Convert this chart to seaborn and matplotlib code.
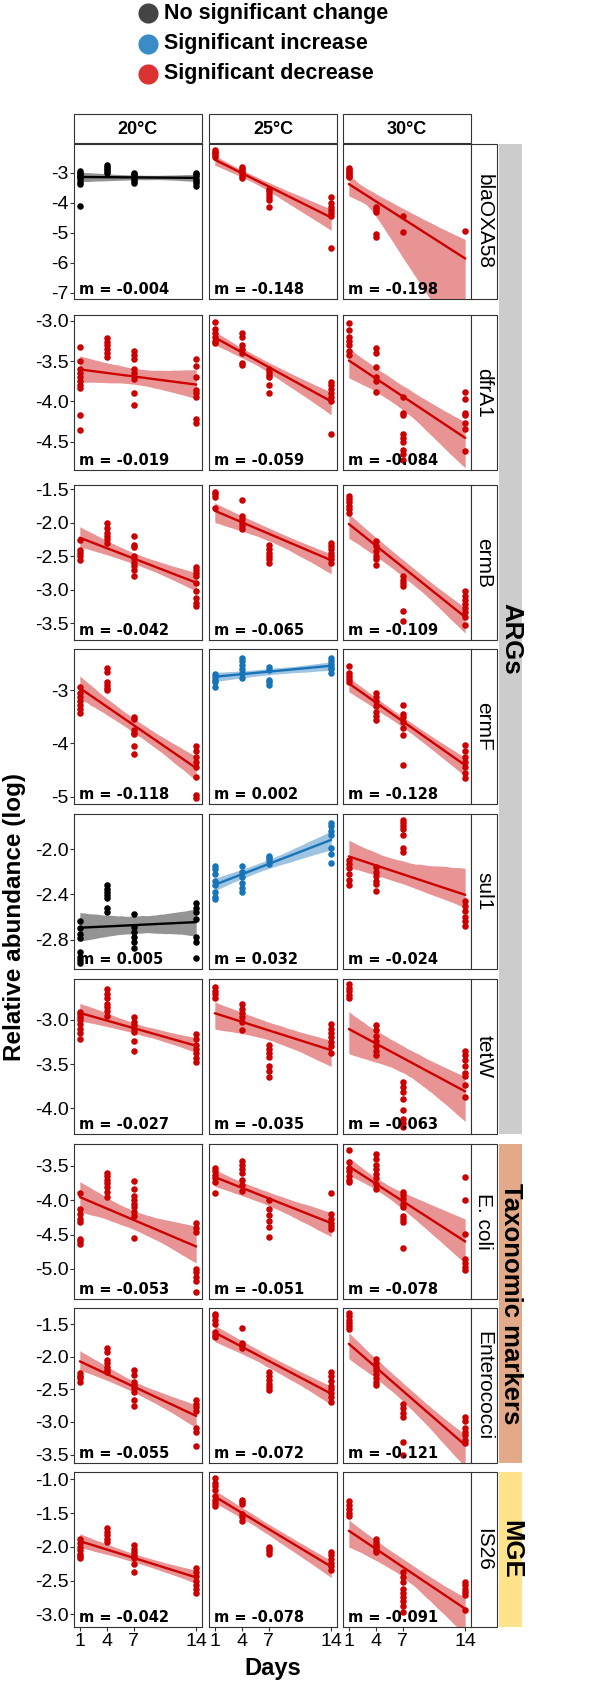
import numpy as np
import pandas as pd
import matplotlib
matplotlib.use("Agg")
import matplotlib.pyplot as plt
from matplotlib.patches import Rectangle
from matplotlib.collections import PolyCollection
import seaborn as sns

# sampling days and facets
days = [1, 4, 7, 14]
temps = ["20°C", "25°C", "30°C"]
genes = ["blaOXA58", "dfrA1", "ermB", "ermF", "sul1", "tetW", "E. coli", "Enterococci", "IS26"]
groups = [("ARGs", 0, 5, "#CCCCCC"), ("Taxonomic markers", 6, 7, "#E2AA88"), ("MGE", 8, 8, "#FFE38A")]

# trend per panel: ns = no significant change, inc = increase, dec = decrease
trend = [["ns", "dec", "dec"], ["dec", "dec", "dec"], ["dec", "dec", "dec"],
         ["dec", "inc", "dec"], ["ns", "inc", "dec"], ["dec", "dec", "dec"],
         ["dec", "dec", "dec"], ["dec", "dec", "dec"], ["dec", "dec", "dec"]]
slope_labels = [["-0.004", "-0.148", "-0.198"], ["-0.019", "-0.059", "-0.084"],
                ["-0.042", "-0.065", "-0.109"], ["-0.118", "0.002", "-0.128"],
                ["0.005", "0.032", "-0.024"], ["-0.027", "-0.035", "-0.063"],
                ["-0.053", "-0.051", "-0.078"], ["-0.055", "-0.072", "-0.121"],
                ["-0.042", "-0.078", "-0.091"]]

# log relative abundance, one list per day (1, 4, 7, 14)
blaOXA58_20 = [[-2.95, -3.0, -3.05, -3.1, -3.15, -3.2, -3.3, -3.38, -4.1],
               [-2.75, -2.8, -2.88, -2.95, -3.0],
               [-3.0, -3.05, -3.1, -3.15, -3.2, -3.28, -3.35],
               [-3.0, -3.05, -3.12, -3.2, -3.28, -3.35, -3.45]]
blaOXA58_25 = [[-2.25, -2.3, -2.35, -2.42, -2.48],
               [-2.8, -2.88, -2.95, -3.02, -3.1, -3.18],
               [-3.55, -3.62, -3.7, -3.8, -3.9, -4.15],
               [-3.8, -4.0, -4.15, -4.25, -4.35, -4.45, -5.5]]
blaOXA58_30 = [[-2.85, -2.9, -2.95, -3.0, -3.05, -3.1, -3.15],
               [-4.15, -4.22, -4.3, -5.05, -5.12],
               [-4.45, -4.98],
               [-4.95]]
dfrA1_20 = [[-3.33, -3.5, -3.6, -3.65, -3.7, -3.75, -3.8, -3.83, -4.17, -4.36],
            [-3.22, -3.27, -3.3, -3.35, -3.4, -3.45],
            [-3.37, -3.42, -3.47, -3.6, -3.65, -3.72, -3.9, -4.04],
            [-3.48, -3.56, -3.7, -3.86, -3.9, -3.95, -4.22, -4.27]]
dfrA1_25 = [[-3.02, -3.1, -3.15, -3.2, -3.25, -3.28],
            [-3.15, -3.2, -3.3, -3.35, -3.4, -3.52, -3.55],
            [-3.6, -3.63, -3.67, -3.7, -3.8, -3.9],
            [-3.76, -3.8, -3.85, -3.9, -3.95, -4.0, -4.41]]
dfrA1_30 = [[-3.03, -3.12, -3.2, -3.25, -3.3, -3.38, -3.42],
            [-3.34, -3.4, -3.58, -3.7, -3.75, -3.88],
            [-3.95, -4.15, -4.17, -4.4, -4.45, -4.5, -4.6, -4.65, -4.72],
            [-3.88, -3.97, -4.15, -4.17, -4.27, -4.34, -4.61]]
ermB_20 = [[-2.26, -2.41, -2.45, -2.5, -2.56],
           [-2.0, -2.08, -2.15, -2.2, -2.25, -2.31],
           [-2.2, -2.33, -2.37, -2.5, -2.55, -2.6, -2.65, -2.7, -2.8],
           [-2.66, -2.7, -2.75, -2.8, -2.9, -3.02, -3.12, -3.2, -3.25]]
ermB_25 = [[-1.55, -1.58, -1.62, -1.78],
           [-1.67, -1.9, -1.95, -2.0, -2.05, -2.1],
           [-2.33, -2.4, -2.45, -2.5, -2.55, -2.6],
           [-2.3, -2.35, -2.4, -2.45, -2.5, -2.55, -2.6]]
ermB_30 = [[-1.6, -1.65, -1.7, -1.75, -1.8, -1.85],
           [-2.27, -2.35, -2.42, -2.5, -2.55, -2.63],
           [-2.8, -2.85, -2.9, -2.95, -3.32, -3.47],
           [-3.02, -3.1, -3.15, -3.22, -3.28, -3.34, -3.4, -3.53]]
ermF_20 = [[-2.93, -3.05, -3.12, -3.2, -3.28, -3.35, -3.42],
           [-2.57, -2.65, -2.85, -2.9, -2.95, -2.99],
           [-3.5, -3.53, -3.75, -3.8, -3.83, -4.05, -4.2],
           [-4.05, -4.15, -4.25, -4.35, -4.45, -4.63, -4.97, -5.03]]
ermF_25 = [[-2.7, -2.75, -2.8, -2.85, -2.93],
           [-2.39, -2.45, -2.52, -2.6, -2.68, -2.77],
           [-2.56, -2.62, -2.8, -2.85, -2.9],
           [-2.39, -2.45, -2.5, -2.55, -2.6, -2.67]]
ermF_30 = [[-2.54, -2.67, -2.72, -2.78, -2.84],
           [-3.05, -3.12, -3.2, -3.3, -3.4, -3.49, -3.55],
           [-3.27, -3.45, -3.5, -3.6, -3.7, -3.84, -4.4],
           [-4.03, -4.15, -4.25, -4.35, -4.45, -4.55, -4.65]]
sul1_20 = [[-2.64, -2.7, -2.75, -2.79, -2.91, -2.95, -2.98, -3.01],
           [-2.32, -2.35, -2.38, -2.41, -2.43, -2.52, -2.56],
           [-2.57, -2.69, -2.73, -2.78, -2.82, -2.87],
           [-2.48, -2.52, -2.56, -2.62, -2.78, -2.82, -2.96]]
sul1_25 = [[-2.15, -2.18, -2.22, -2.28, -2.32, -2.38, -2.42, -2.44],
           [-2.15, -2.2, -2.25, -2.3, -2.34, -2.38],
           [-2.06, -2.08, -2.1, -2.13],
           [-1.77, -1.8, -1.84, -1.88, -1.99, -2.04, -2.12]]
sul1_30 = [[-2.1, -2.13, -2.17, -2.22, -2.27, -2.32],
           [-2.16, -2.2, -2.24, -2.28, -2.31, -2.37],
           [-1.74, -1.77, -1.8, -1.82, -1.88, -1.99, -2.03],
           [-2.46, -2.5, -2.55, -2.6, -2.64, -2.68]]
tetW_20 = [[-2.91, -2.94, -2.97, -3.0, -3.05, -3.1, -3.15, -3.22],
           [-2.65, -2.71, -2.76, -2.82, -2.86, -2.9, -2.96],
           [-2.97, -3.02, -3.06, -3.1, -3.14, -3.24, -3.35],
           [-3.16, -3.22, -3.28, -3.33, -3.38, -3.43, -3.48]]
tetW_25 = [[-2.63, -2.67, -2.71, -2.75],
           [-2.82, -2.88, -2.92, -2.97, -3.02, -3.12],
           [-3.29, -3.33, -3.38, -3.42, -3.52, -3.58, -3.65],
           [-3.05, -3.1, -3.15, -3.2, -3.25, -3.3, -3.37]]
tetW_30 = [[-2.6, -2.64, -2.68, -2.72, -2.76],
           [-3.06, -3.12, -3.18, -3.24, -3.3, -3.35, -3.4],
           [-3.7, -3.76, -3.82, -3.89, -4.02, -4.12, -4.17, -4.21],
           [-3.35, -3.4, -3.45, -3.52, -3.6, -3.63, -3.74, -3.87]]
ecoli_20 = [[-3.89, -4.13, -4.2, -4.27, -4.32, -4.57, -4.6, -4.64],
            [-3.6, -3.65, -3.7, -3.75, -3.8, -3.88, -3.96],
            [-3.72, -3.84, -3.94, -4.0, -4.05, -4.1, -4.17, -4.23, -4.55],
            [-4.33, -4.4, -4.47, -5.0, -5.05, -5.12, -5.18, -5.34]]
ecoli_25 = [[-3.53, -3.58, -3.63, -3.68, -3.74, -3.89],
            [-3.43, -3.48, -3.55, -3.6, -3.7, -3.78, -3.86],
            [-4.0, -4.13, -4.22, -4.3, -4.39, -4.54],
            [-3.89, -4.2, -4.28, -4.33, -4.38, -4.42]]
ecoli_30 = [[-3.27, -3.44, -3.53, -3.58, -3.64, -3.7, -3.74],
            [-3.32, -3.4, -3.48, -3.55, -3.62, -3.68, -3.76, -3.84],
            [-3.88, -3.93, -3.98, -4.05, -4.1, -4.23, -4.28, -4.32, -4.69],
            [-3.66, -3.99, -4.49, -4.86, -4.92, -4.97, -5.02]]
entero_20 = [[-2.25, -2.29, -2.33, -2.38],
             [-1.86, -1.92, -2.05, -2.1, -2.15, -2.2, -2.23],
             [-2.2, -2.28, -2.38, -2.43, -2.48, -2.54, -2.67, -2.75],
             [-2.67, -2.72, -2.77, -2.83, -3.1, -3.16, -3.37]]
entero_25 = [[-1.34, -1.38, -1.43, -1.5, -1.62, -1.66, -1.7],
             [-1.55, -1.78, -1.82, -1.86],
             [-2.23, -2.3, -2.36, -2.42, -2.47, -2.51],
             [-2.23, -2.3, -2.37, -2.44, -2.5, -2.56, -2.62, -2.7]]
entero_30 = [[-1.33, -1.38, -1.43, -1.48, -1.52, -1.58],
             [-2.04, -2.1, -2.15, -2.2, -2.26, -2.32, -2.38, -2.43],
             [-2.72, -2.78, -2.86, -2.93, -3.3, -3.5],
             [-2.93, -2.98, -3.1, -3.15, -3.2, -3.28, -3.33]]
is26_20 = [[-1.89, -1.95, -2.0, -2.05, -2.1, -2.14, -2.17],
           [-1.72, -1.78, -1.83, -1.88, -1.93],
           [-1.98, -2.03, -2.08, -2.12, -2.17, -2.25, -2.37],
           [-2.31, -2.38, -2.44, -2.5, -2.56, -2.62, -2.68]]
is26_25 = [[-0.98, -1.05, -1.1, -1.15, -1.25, -1.3, -1.35, -1.39],
           [-1.3, -1.34, -1.37, -1.52, -1.56, -1.61],
           [-2.0, -2.03, -2.06, -2.1],
           [-2.07, -2.12, -2.18, -2.24, -2.29, -2.35]]
is26_30 = [[-1.32, -1.38, -1.44, -1.5, -1.55],
           [-1.89, -1.93, -1.97, -2.01, -2.05, -2.08],
           [-2.37, -2.45, -2.52, -2.62, -2.68, -2.74, -2.8, -2.88, -2.96],
           [-2.52, -2.57, -2.62, -2.67, -2.71, -2.94]]

panels = [[blaOXA58_20, blaOXA58_25, blaOXA58_30], [dfrA1_20, dfrA1_25, dfrA1_30],
          [ermB_20, ermB_25, ermB_30], [ermF_20, ermF_25, ermF_30],
          [sul1_20, sul1_25, sul1_30], [tetW_20, tetW_25, tetW_30],
          [ecoli_20, ecoli_25, ecoli_30], [entero_20, entero_25, entero_30],
          [is26_20, is26_25, is26_30]]

# y axis per gene row
ylims = [(-7.2, -2.04), (-4.85, -2.93), (-3.75, -1.44), (-5.14, -2.22), (-3.06, -1.69),
         (-4.29, -2.54), (-5.44, -3.18), (-3.63, -1.25), (-3.19, -0.89)]
yticks = [[-3, -4, -5, -6, -7], [-3.0, -3.5, -4.0, -4.5], [-1.5, -2.0, -2.5, -3.0, -3.5],
          [-3, -4, -5], [-2.0, -2.4, -2.8], [-3.0, -3.5, -4.0], [-3.5, -4.0, -4.5, -5.0],
          [-1.5, -2.0, -2.5, -3.0, -3.5], [-1.0, -1.5, -2.0, -2.5, -3.0]]
ytick_fmt = ["%d", "%.1f", "%.1f", "%d", "%.1f", "%.1f", "%.1f", "%.1f", "%.1f"]

# long table
rows = []
for gi, g in enumerate(genes):
    for ti, t in enumerate(temps):
        for d, vals in zip(days, panels[gi][ti]):
            for v in vals:
                rows.append((g, t, d, v))
df = pd.DataFrame(rows, columns=["gene", "temp", "day", "value"])

pt_color = {"ns": "#000000", "inc": "#1874B8", "dec": "#CC0000"}
leg_color = {"ns": "#444444", "inc": "#3A8CC6", "dec": "#DC3232"}

sns.set_style("white")
plt.rcParams["font.family"] = ["Liberation Sans", "DejaVu Sans"]
plt.rcParams["text.color"] = "black"
plt.rcParams["xtick.color"] = "black"
plt.rcParams["ytick.color"] = "black"

W, H = 613, 1684
fig = plt.figure(figsize=(W / 100, H / 100), dpi=100)

def fr(x0, y0, w, h):
    return [x0 / W, 1 - (y0 + h) / H, w / W, h / H]

col_x = [74, 209, 343]
pw, ph = 128, 155
tops = [144, 315, 485, 649, 814, 979, 1144, 1308, 1472]
edge = "#333333"

for gi, g in enumerate(genes):
    for ti, t in enumerate(temps):
        ax = fig.add_axes(fr(col_x[ti], tops[gi], pw, ph))
        sub = df[(df.gene == g) & (df.temp == t)]
        c = pt_color[trend[gi][ti]]
        sns.regplot(data=sub, x="day", y="value", ax=ax, color=c, ci=95, seed=3,
                    scatter_kws=dict(s=22, linewidths=0, alpha=1, zorder=3),
                    line_kws=dict(lw=1.7, zorder=2))
        for coll in ax.collections:
            if isinstance(coll, PolyCollection):
                coll.set_alpha(0.42)
                coll.set_linewidth(0)
        ax.set_xlim(0.35, 14.65)
        ax.set_ylim(*ylims[gi])
        ax.set_xlabel("")
        ax.set_ylabel("")
        ax.set_yticks(yticks[gi])
        if ti == 0:
            ax.set_yticklabels([ytick_fmt[gi] % v for v in yticks[gi]])
            ax.tick_params(axis="y", left=True, length=3, width=0.8, color=edge,
                           labelcolor="black", labelsize=14, pad=1)
        else:
            ax.set_yticklabels([])
            ax.tick_params(axis="y", left=False)
        ax.set_xticks(days)
        if gi == len(genes) - 1:
            ax.set_xticklabels([str(d) for d in days])
            ax.tick_params(axis="x", bottom=True, length=3, width=0.8, color=edge,
                           labelcolor="black", labelsize=14, pad=1)
        else:
            ax.set_xticklabels([])
            ax.tick_params(axis="x", bottom=False)
        for sp in ax.spines.values():
            sp.set_color(edge)
            sp.set_linewidth(0.8)
        ax.text(0.04, 0.015, "m = " + slope_labels[gi][ti], transform=ax.transAxes,
                ha="left", va="bottom", fontsize=10.5, fontweight="bold",
                family="DejaVu Sans", color="black", zorder=5)

# overlay in pixel coordinates for strips, group bars, legend and titles
ov = fig.add_axes([0, 0, 1, 1], facecolor="none")
ov.set_xlim(0, W)
ov.set_ylim(H, 0)
ov.axis("off")

for ti, t in enumerate(temps):
    ov.add_patch(Rectangle((col_x[ti], 114), pw, 29, facecolor="white", edgecolor=edge, lw=0.8))
    ov.text(col_x[ti] + pw / 2, 129, t, ha="center", va="center", fontsize=13, fontweight="bold")

for gi, g in enumerate(genes):
    ov.add_patch(Rectangle((471, tops[gi]), 26, ph, facecolor="white", edgecolor=edge, lw=0.8))
    ov.text(484, tops[gi] + ph / 2, g, ha="center", va="center", rotation=270, fontsize=15)

for name, r0, r1, col in groups:
    y0 = tops[r0]
    y1 = tops[r1] + ph
    ov.add_patch(Rectangle((499, y0), 23, y1 - y0, facecolor=col, edgecolor="none"))
    ov.text(511, (y0 + y1) / 2, name, ha="center", va="center", rotation=270,
            fontsize=18.5, fontweight="bold")

leg_items = [("ns", "No significant change"), ("inc", "Significant increase"),
             ("dec", "Significant decrease")]
for k, (key, lab) in enumerate(leg_items):
    yy = 13 + k * 30.5
    ov.scatter([148], [yy], s=210, color=leg_color[key], linewidths=0, clip_on=False)
    ov.text(164, yy, lab, ha="left", va="center", fontsize=15.5, fontweight="bold")

ov.text(15, 917, "Relative abundance (log)", ha="center", va="center", rotation=90,
        fontsize=17.5, fontweight="bold")
ov.text(273, 1669, "Days", ha="center", va="center", fontsize=17, fontweight="bold")

fig.savefig("out.png", dpi=100)
